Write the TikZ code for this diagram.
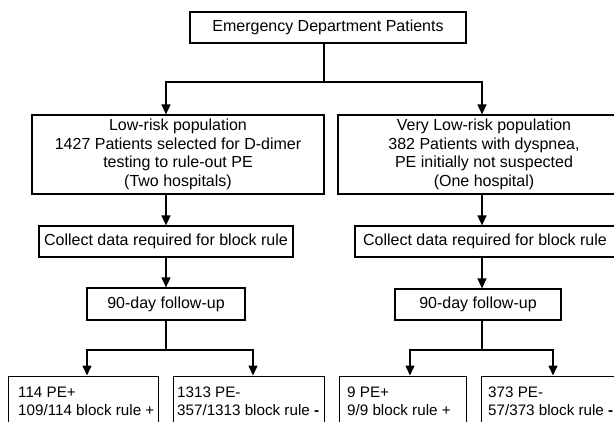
\documentclass[tikz,border=0pt]{standalone}
\usepackage{fontspec}
\setmainfont{Liberation Sans}
\usetikzlibrary{arrows.meta,calc}
\begin{document}
\begin{tikzpicture}[x=1pt,y=-1pt,
  box/.style={draw, line width=1.2pt, inner sep=0pt, align=center, font=\fontsize{16}{18.7}\selectfont},
  conn/.style={line width=1.5pt},
  arr/.style={conn, -{Triangle[length=10pt,width=9pt]}},
  bbox/.style={draw, line width=1.2pt, anchor=north west, inner sep=0pt, minimum height=70pt},
  btext/.style={anchor=north west, align=left, inner sep=0pt, font=\fontsize{15.2}{18}\selectfont}]
\useasboundingbox (0,0) rectangle (614,421);
\clip (0,0) rectangle (614,421);

\node[box, minimum width=276pt, minimum height=31pt] (top) at (328,27.5) {Emergency Department Patients};
\node[box, minimum width=292pt, minimum height=79pt] (low) at (178,154.5) {Low-risk population\\1427 Patients selected for D-dimer\\testing to rule-out PE\\(Two hospitals)};
\node[box, minimum width=292pt, minimum height=79pt] (vlow) at (484,154.5) {Very Low-risk population\\382 Patients with dyspnea,\\PE initially not suspected\\(One hospital)};
\node[box, minimum width=254pt, minimum height=31pt] (colL) at (166,241.5) {Collect data required for block rule};
\node[box, minimum width=260pt, minimum height=31pt] (colR) at (485,241.5) {Collect data required for block rule};
\node[box, minimum width=158pt, minimum height=32pt] (fuL) at (166,304) {90-day follow-up};
\node[box, minimum width=166pt, minimum height=31pt] (fuR) at (478,304.5) {90-day follow-up};

\node[bbox, minimum width=150pt] (b1) at (8,375.5) {};
\node[bbox, minimum width=151pt] (b2) at (173,375.5) {};
\node[bbox, minimum width=127pt] (b3) at (339,375.5) {};
\node[bbox, minimum width=150pt] (b4) at (481,375.5) {};
\node[btext] (t1) at ($(b1.north west)+(10,11.5)$) {114 PE+\\109/114 block rule +};
\node[btext] (t2) at ($(b2.north west)+(4,11.5)$) {1313 PE-\\357/1313 block rule \textbf{-}};
\node[btext] (t3) at ($(b3.north west)+(8,11.5)$) {9 PE+\\9/9 block rule +};
\node[btext] (t4) at ($(b4.north west)+(7,11.5)$) {373 PE-\\57/373 block rule \textbf{-}};

\coordinate (j0) at (324,82);
\coordinate (jL) at (166,82);
\coordinate (jR) at (482,82);
\draw[conn] (top.south -| j0) -- (j0);
\draw[arr] (j0) -| (jL |- low.north);
\draw[arr] (j0) -| (jR |- vlow.north);

\draw[arr] (colL.north |- low.south) -- (colL.north);
\draw[arr] (colL.south) -- (fuL.north);
\draw[arr] (jR |- vlow.south) -- (jR |- colR.north);
\draw[arr] (jR |- colR.south) -- (jR |- fuR.north);

\coordinate (k0) at (166,350);
\coordinate (kL) at (87,350);
\coordinate (kR) at (253,350);
\draw[conn] (fuL.south) -- (k0);
\draw[arr] (k0) -| (kL |- b1.north);
\draw[arr] (k0) -| (kR |- b2.north);

\coordinate (m0) at (482,350);
\coordinate (mL) at (410,350);
\coordinate (mR) at (553,350);
\draw[conn] (m0 |- fuR.south) -- (m0);
\draw[arr] (m0) -| (mL |- b3.north);
\draw[arr] (m0) -| (mR |- b4.north);
\end{tikzpicture}
\end{document}
